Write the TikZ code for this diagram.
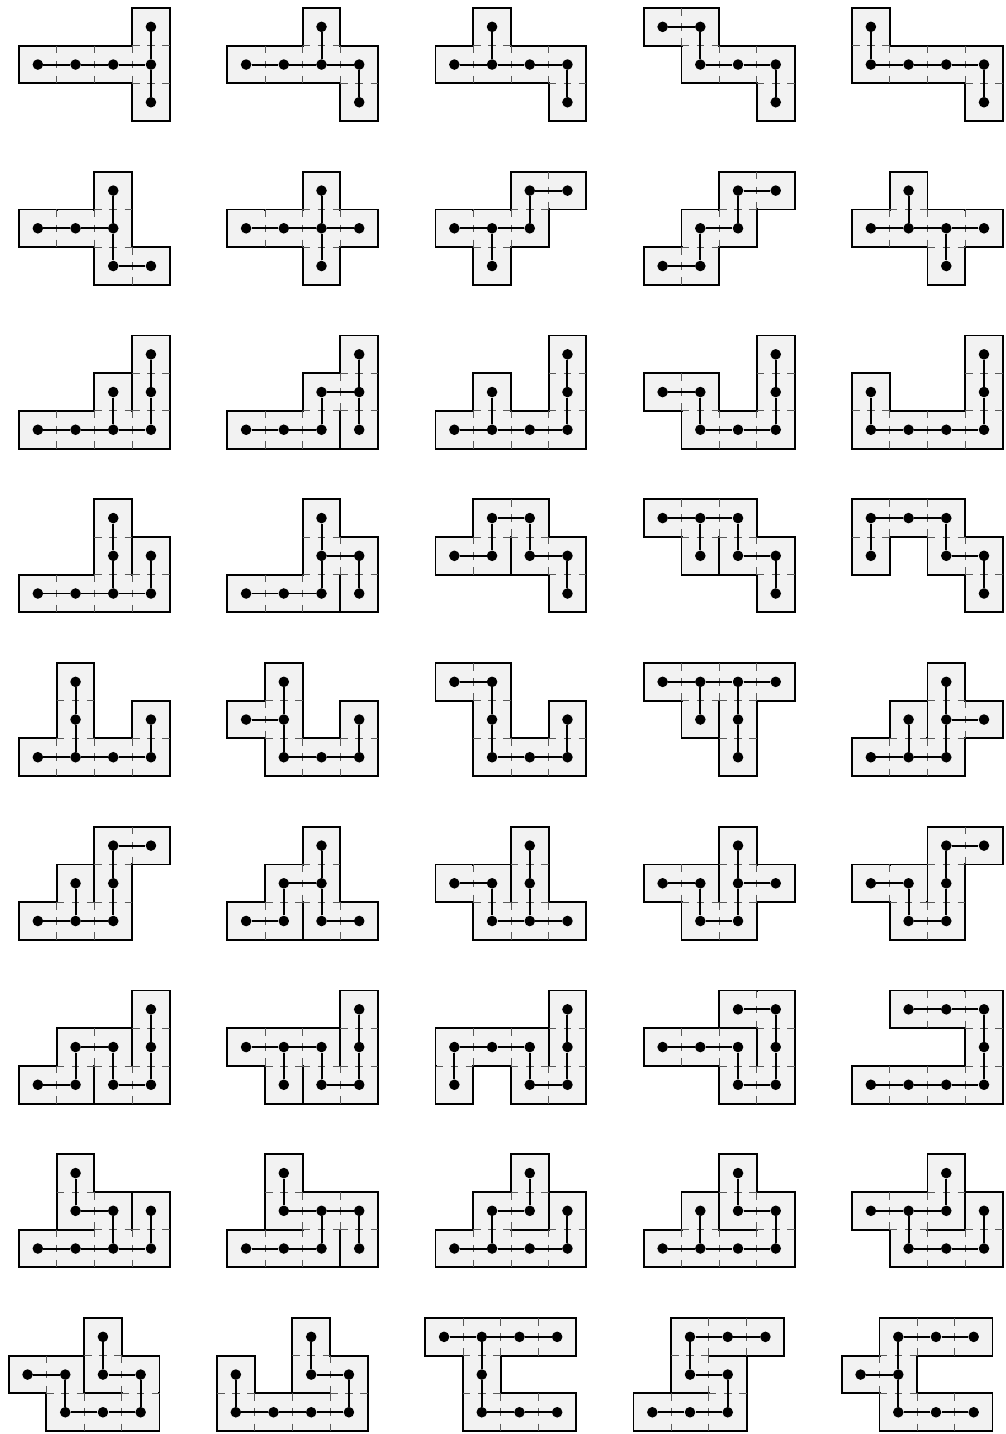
\documentclass[tikz,border=0pt]{standalone}
\usepackage{tikz}
\definecolor{cellgray}{RGB}{242,242,242}

\begin{document}
\begin{tikzpicture}[
    cellfill/.style={fill=cellgray},
    cellside/.style={draw=black, line width=1.4pt},
    seamgap/.style={draw=cellgray, line width=2.4pt, shorten <=0.8pt, shorten >=0.8pt},
    seam/.style={draw=black!65, line width=0.6pt, dash pattern=on 0.2cm off 0.2cm},
    vertex/.style={circle, fill=black, inner sep=0pt, minimum size=0.28cm},
    treeedge/.style={line width=1.5pt}
]
\useasboundingbox (0,0) rectangle (26.658,-38.037);

% cells (i/j, j counted downwards)/tree links (i1/j1/i2/j2)/col/row
\foreach \cells/\links/\col/\row [count=\k] in {
    % --- row 1 ---
    {3/0,0/1,1/1,2/1,3/1,3/2}/{0/1/1/1,1/1/2/1,2/1/3/1,3/0/3/1,3/1/3/2}/0/0,
    {2/0,0/1,1/1,2/1,3/1,3/2}/{0/1/1/1,1/1/2/1,2/1/3/1,2/0/2/1,3/1/3/2}/1/0,
    {1/0,0/1,1/1,2/1,3/1,3/2}/{0/1/1/1,1/1/2/1,2/1/3/1,1/0/1/1,3/1/3/2}/2/0,
    {0/0,1/0,1/1,2/1,3/1,3/2}/{0/0/1/0,1/0/1/1,1/1/2/1,2/1/3/1,3/1/3/2}/3/0,
    {0/0,0/1,1/1,2/1,3/1,3/2}/{0/0/0/1,0/1/1/1,1/1/2/1,2/1/3/1,3/1/3/2}/4/0,
    % --- row 2 ---
    {2/0,0/1,1/1,2/1,2/2,3/2}/{0/1/1/1,1/1/2/1,2/0/2/1,2/1/2/2,2/2/3/2}/0/1,
    {2/0,0/1,1/1,2/1,3/1,2/2}/{0/1/1/1,1/1/2/1,2/1/3/1,2/0/2/1,2/1/2/2}/1/1,
    {2/0,3/0,0/1,1/1,2/1,1/2}/{2/0/3/0,2/0/2/1,0/1/1/1,1/1/2/1,1/1/1/2}/2/1,
    {2/0,3/0,1/1,2/1,0/2,1/2}/{2/0/3/0,2/0/2/1,1/1/2/1,1/1/1/2,0/2/1/2}/3/1,
    {1/0,0/1,1/1,2/1,3/1,2/2}/{0/1/1/1,1/1/2/1,2/1/3/1,1/0/1/1,2/1/2/2}/4/1,
    % --- row 3 ---
    {3/0,2/1,3/1,0/2,1/2,2/2,3/2}/{3/0/3/1,3/1/3/2,2/1/2/2,0/2/1/2,1/2/2/2,2/2/3/2}/0/2,
    {3/0,2/1,3/1,0/2,1/2,2/2,3/2}/{3/0/3/1,3/1/3/2,2/1/3/1,2/1/2/2,0/2/1/2,1/2/2/2}/1/2,
    {3/0,1/1,3/1,0/2,1/2,2/2,3/2}/{3/0/3/1,3/1/3/2,1/1/1/2,0/2/1/2,1/2/2/2,2/2/3/2}/2/2,
    {3/0,0/1,1/1,3/1,1/2,2/2,3/2}/{0/1/1/1,1/1/1/2,1/2/2/2,2/2/3/2,3/0/3/1,3/1/3/2}/3/2,
    {3/0,0/1,3/1,0/2,1/2,2/2,3/2}/{0/1/0/2,0/2/1/2,1/2/2/2,2/2/3/2,3/0/3/1,3/1/3/2}/4/2,
    % --- row 4 ---
    {2/0,2/1,3/1,0/2,1/2,2/2,3/2}/{2/0/2/1,2/1/2/2,3/1/3/2,0/2/1/2,1/2/2/2,2/2/3/2}/0/3,
    {2/0,2/1,3/1,0/2,1/2,2/2,3/2}/{2/0/2/1,2/1/3/1,2/1/2/2,3/1/3/2,0/2/1/2,1/2/2/2}/1/3,
    {1/0,2/0,0/1,1/1,2/1,3/1,3/2}/{1/0/2/0,1/0/1/1,0/1/1/1,2/0/2/1,2/1/3/1,3/1/3/2}/2/3,
    {0/0,1/0,2/0,1/1,2/1,3/1,3/2}/{0/0/1/0,1/0/2/0,1/0/1/1,2/0/2/1,2/1/3/1,3/1/3/2}/3/3,
    {0/0,1/0,2/0,0/1,2/1,3/1,3/2}/{0/0/1/0,1/0/2/0,0/0/0/1,2/0/2/1,2/1/3/1,3/1/3/2}/4/3,
    % --- row 5 ---
    {1/0,1/1,3/1,0/2,1/2,2/2,3/2}/{1/0/1/1,1/1/1/2,3/1/3/2,0/2/1/2,1/2/2/2,2/2/3/2}/0/4,
    {1/0,0/1,1/1,3/1,1/2,2/2,3/2}/{1/0/1/1,0/1/1/1,1/1/1/2,1/2/2/2,2/2/3/2,3/1/3/2}/1/4,
    {0/0,1/0,1/1,3/1,1/2,2/2,3/2}/{0/0/1/0,1/0/1/1,1/1/1/2,1/2/2/2,2/2/3/2,3/1/3/2}/2/4,
    {0/0,1/0,2/0,3/0,1/1,2/1,2/2}/{0/0/1/0,1/0/2/0,2/0/3/0,1/0/1/1,2/0/2/1,2/1/2/2}/3/4,
    {2/0,1/1,2/1,3/1,0/2,1/2,2/2}/{2/0/2/1,2/1/3/1,2/1/2/2,1/1/1/2,0/2/1/2,1/2/2/2}/4/4,
    % --- row 6 ---
    {2/0,3/0,1/1,2/1,0/2,1/2,2/2}/{2/0/3/0,2/0/2/1,2/1/2/2,1/1/1/2,0/2/1/2,1/2/2/2}/0/5,
    {2/0,1/1,2/1,0/2,1/2,2/2,3/2}/{2/0/2/1,1/1/2/1,1/1/1/2,0/2/1/2,2/1/2/2,2/2/3/2}/1/5,
    {2/0,0/1,1/1,2/1,1/2,2/2,3/2}/{0/1/1/1,1/1/1/2,2/0/2/1,2/1/2/2,1/2/2/2,2/2/3/2}/2/5,
    {2/0,0/1,1/1,2/1,3/1,1/2,2/2}/{0/1/1/1,1/1/1/2,1/2/2/2,2/0/2/1,2/1/3/1,2/1/2/2}/3/5,
    {2/0,3/0,0/1,1/1,2/1,1/2,2/2}/{2/0/3/0,2/0/2/1,2/1/2/2,0/1/1/1,1/1/1/2,1/2/2/2}/4/5,
    % --- row 7 ---
    {3/0,1/1,2/1,3/1,0/2,1/2,2/2,3/2}/{3/0/3/1,3/1/3/2,1/1/2/1,1/1/1/2,0/2/1/2,2/1/2/2,2/2/3/2}/0/6,
    {3/0,0/1,1/1,2/1,3/1,1/2,2/2,3/2}/{3/0/3/1,3/1/3/2,0/1/1/1,1/1/2/1,1/1/1/2,2/1/2/2,2/2/3/2}/1/6,
    {3/0,0/1,1/1,2/1,3/1,0/2,2/2,3/2}/{3/0/3/1,3/1/3/2,0/1/1/1,1/1/2/1,0/1/0/2,2/1/2/2,2/2/3/2}/2/6,
    {2/0,3/0,0/1,1/1,2/1,3/1,2/2,3/2}/{2/0/3/0,3/0/3/1,3/1/3/2,0/1/1/1,1/1/2/1,2/1/2/2,2/2/3/2}/3/6,
    {1/0,2/0,3/0,3/1,0/2,1/2,2/2,3/2}/{1/0/2/0,2/0/3/0,3/0/3/1,3/1/3/2,0/2/1/2,1/2/2/2,2/2/3/2}/4/6,
    % --- row 8 ---
    {1/0,1/1,2/1,3/1,0/2,1/2,2/2,3/2}/{1/0/1/1,1/1/2/1,2/1/2/2,3/1/3/2,0/2/1/2,1/2/2/2,2/2/3/2}/0/7,
    {1/0,1/1,2/1,3/1,0/2,1/2,2/2,3/2}/{1/0/1/1,1/1/2/1,2/1/3/1,2/1/2/2,3/1/3/2,0/2/1/2,1/2/2/2}/1/7,
    {2/0,1/1,2/1,3/1,0/2,1/2,2/2,3/2}/{2/0/2/1,1/1/2/1,1/1/1/2,3/1/3/2,0/2/1/2,1/2/2/2,2/2/3/2}/2/7,
    {2/0,1/1,2/1,3/1,0/2,1/2,2/2,3/2}/{2/0/2/1,2/1/3/1,3/1/3/2,1/1/1/2,0/2/1/2,1/2/2/2,2/2/3/2}/3/7,
    {2/0,0/1,1/1,2/1,3/1,1/2,2/2,3/2}/{2/0/2/1,0/1/1/1,1/1/2/1,1/1/1/2,3/1/3/2,1/2/2/2,2/2/3/2}/4/7,
    % --- row 9 ---
    {2/0,0/1,1/1,2/1,3/1,1/2,2/2,3/2}/{2/0/2/1,0/1/1/1,2/1/3/1,1/1/1/2,3/1/3/2,1/2/2/2,2/2/3/2}/0/8,
    {2/0,0/1,2/1,3/1,0/2,1/2,2/2,3/2}/{2/0/2/1,2/1/3/1,0/1/0/2,3/1/3/2,0/2/1/2,1/2/2/2,2/2/3/2}/1/8,
    {0/0,1/0,2/0,3/0,1/1,1/2,2/2,3/2}/{0/0/1/0,1/0/2/0,2/0/3/0,1/0/1/1,1/1/1/2,1/2/2/2,2/2/3/2}/2/8,
    {1/0,2/0,3/0,1/1,2/1,0/2,1/2,2/2}/{1/0/2/0,2/0/3/0,1/0/1/1,1/1/2/1,2/1/2/2,0/2/1/2,1/2/2/2}/3/8,
    {1/0,2/0,3/0,0/1,1/1,1/2,2/2,3/2}/{1/0/2/0,2/0/3/0,1/0/1/1,0/1/1/1,1/1/1/2,1/2/2/2,2/2/3/2}/4/8
} {
    \pgfmathsetmacro\sx{0.504+5.524*\col-0.273*(\row==8)}
    \pgfmathsetmacro\sy{-0.212-4.3435*\row}
    \begin{scope}[shift={(\sx,\sy)}, yscale=-1]
        % cells
        \foreach \i/\j in \cells
            \fill[cellfill] (\i,\j) rectangle ++(1,1);
        \foreach \i/\j in \cells
            \draw[cellside] (\i,\j) rectangle ++(1,1);
        % open the wall where the tree passes
        \foreach \a/\b/\c/\d in \links {
            \pgfmathsetmacro\mx{(\a+\c)/2+0.5}
            \pgfmathsetmacro\my{(\b+\d)/2+0.5}
            \pgfmathsetmacro\hx{abs(\d-\b)/2}
            \pgfmathsetmacro\hy{abs(\c-\a)/2}
            \draw[seamgap] ({\mx-\hx},{\my-\hy}) -- ({\mx+\hx},{\my+\hy});
            \draw[seam] ({\mx-\hx},{\my-\hy}) -- ({\mx+\hx},{\my+\hy});
        }
        % tree
        \foreach \i/\j in \cells
            \node[vertex] (p\k-\i-\j) at (\i+0.5,\j+0.5) {};
        \foreach \a/\b/\c/\d in \links
            \draw[treeedge] (p\k-\a-\b) -- (p\k-\c-\d);
    \end{scope}
}
\end{tikzpicture}
\end{document}
